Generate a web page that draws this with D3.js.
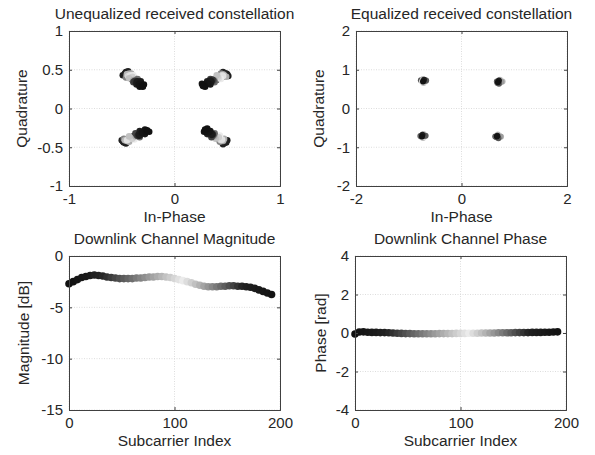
<!DOCTYPE html>
<html><head><meta charset="utf-8">
<script src="https://cdn.jsdelivr.net/npm/d3@7"></script>
<style>
html,body{margin:0;padding:0;background:#fff;}
text{font-family:"Liberation Sans",Arial,Helvetica,sans-serif;fill:#262626;}
</style></head>
<body><svg id="c" width="595" height="455"></svg>
<script>
// ---------------- data ----------------
// Unequalized constellation points: [In-Phase, Quadrature, subcarrier]
const unequalizedTL = [[-0.40,0.37,0],[-0.38,0.39,2],[-0.41,0.40,4],[-0.43,0.40,8],[-0.42,0.42,10],[-0.45,0.42,12],[-0.46,0.43,16],[-0.45,0.45,18],[-0.47,0.44,20],[-0.49,0.43,22],[-0.47,0.45,24],[-0.46,0.47,26],[-0.45,0.46,28],[-0.44,0.48,30],[-0.46,0.44,32],[-0.44,0.44,40],[-0.43,0.43,52],[-0.45,0.41,56],[-0.44,0.43,64],[-0.46,0.40,68],[-0.45,0.44,76],[-0.43,0.45,80],[-0.41,0.45,84],[-0.45,0.44,88],[-0.44,0.42,100],[-0.42,0.43,104],[-0.39,0.43,108],[-0.41,0.40,112],[-0.40,0.41,116],[-0.43,0.39,120],[-0.38,0.37,124],[-0.39,0.36,128],[-0.37,0.35,136],[-0.36,0.36,140],[-0.35,0.38,144],[-0.37,0.36,148],[-0.36,0.35,152],[-0.39,0.34,156],[-0.38,0.35,160],[-0.36,0.31,168],[-0.36,0.34,172],[-0.35,0.35,176],[-0.32,0.35,180],[-0.33,0.32,184],[-0.34,0.31,186],[-0.33,0.28,188],[-0.31,0.30,190],[-0.30,0.29,192],[-0.29,0.31,194],[-0.30,0.28,195]];
const unequalizedTR = [[0.39,0.38,0],[0.40,0.37,2],[0.41,0.40,4],[0.43,0.42,8],[0.44,0.40,10],[0.46,0.43,12],[0.47,0.44,16],[0.48,0.43,18],[0.48,0.45,20],[0.51,0.42,22],[0.49,0.45,24],[0.50,0.44,26],[0.48,0.44,28],[0.46,0.47,30],[0.47,0.45,32],[0.46,0.43,40],[0.45,0.42,52],[0.46,0.41,56],[0.46,0.43,64],[0.44,0.45,68],[0.47,0.42,76],[0.46,0.44,80],[0.49,0.41,84],[0.47,0.43,88],[0.45,0.43,100],[0.46,0.42,104],[0.44,0.38,108],[0.42,0.39,112],[0.41,0.41,116],[0.40,0.43,120],[0.37,0.37,124],[0.38,0.36,128],[0.36,0.36,136],[0.35,0.37,140],[0.38,0.34,144],[0.36,0.35,148],[0.37,0.36,152],[0.34,0.38,156],[0.36,0.37,160],[0.31,0.35,168],[0.35,0.35,172],[0.34,0.36,176],[0.34,0.31,180],[0.31,0.33,184],[0.32,0.32,186],[0.26,0.32,188],[0.28,0.31,190],[0.27,0.30,192],[0.29,0.28,194],[0.27,0.29,195]];
const unequalizedBL = [[-0.38,-0.37,0],[-0.39,-0.36,2],[-0.41,-0.38,4],[-0.43,-0.40,8],[-0.42,-0.39,10],[-0.45,-0.41,12],[-0.47,-0.42,16],[-0.46,-0.43,18],[-0.48,-0.43,20],[-0.46,-0.45,22],[-0.485,-0.43,24],[-0.49,-0.42,26],[-0.48,-0.44,28],[-0.50,-0.41,30],[-0.47,-0.42,32],[-0.46,-0.41,40],[-0.44,-0.41,52],[-0.45,-0.40,56],[-0.45,-0.41,64],[-0.48,-0.39,68],[-0.46,-0.40,76],[-0.45,-0.42,80],[-0.43,-0.43,84],[-0.47,-0.41,88],[-0.44,-0.40,100],[-0.45,-0.41,104],[-0.38,-0.40,108],[-0.41,-0.38,112],[-0.40,-0.39,116],[-0.43,-0.36,120],[-0.37,-0.36,124],[-0.36,-0.35,128],[-0.35,-0.34,136],[-0.34,-0.35,140],[-0.33,-0.37,144],[-0.35,-0.35,148],[-0.36,-0.34,152],[-0.37,-0.32,156],[-0.35,-0.35,160],[-0.33,-0.29,168],[-0.34,-0.34,172],[-0.33,-0.35,176],[-0.28,-0.33,180],[-0.30,-0.32,184],[-0.31,-0.31,186],[-0.28,-0.27,188],[-0.27,-0.30,190],[-0.26,-0.29,192],[-0.24,-0.30,194],[-0.26,-0.28,195]];
const unequalizedBR = [[0.39,-0.36,0],[0.40,-0.37,2],[0.41,-0.38,4],[0.43,-0.39,8],[0.42,-0.40,10],[0.45,-0.41,12],[0.46,-0.42,16],[0.47,-0.41,18],[0.47,-0.43,20],[0.50,-0.41,22],[0.48,-0.43,24],[0.49,-0.44,26],[0.47,-0.44,28],[0.46,-0.46,30],[0.47,-0.42,32],[0.46,-0.41,40],[0.44,-0.40,52],[0.45,-0.41,56],[0.45,-0.40,64],[0.43,-0.43,68],[0.46,-0.42,76],[0.45,-0.41,80],[0.47,-0.39,84],[0.46,-0.41,88],[0.44,-0.41,100],[0.45,-0.40,104],[0.43,-0.35,108],[0.41,-0.38,112],[0.42,-0.37,116],[0.39,-0.39,120],[0.38,-0.35,124],[0.37,-0.36,128],[0.36,-0.34,136],[0.37,-0.33,140],[0.38,-0.32,144],[0.37,-0.34,148],[0.36,-0.35,152],[0.35,-0.37,156],[0.36,-0.34,160],[0.31,-0.33,168],[0.36,-0.33,172],[0.35,-0.34,176],[0.34,-0.29,180],[0.32,-0.31,184],[0.33,-0.30,186],[0.28,-0.30,188],[0.30,-0.29,190],[0.29,-0.28,192],[0.31,-0.26,194],[0.29,-0.27,195]];
// Equalized constellation points: [In-Phase, Quadrature, subcarrier]
const equalizedTL = [[-0.74,0.72,0],[-0.70,0.73,24],[-0.77,0.73,50],[-0.72,0.69,60],[-0.72,0.66,90],[-0.75,0.70,100],[-0.68,0.70,110],[-0.73,0.76,120],[-0.69,0.71,140],[-0.67,0.72,150],[-0.71,0.74,170],[-0.73,0.70,192]];
const equalizedTR = [[0.70,0.70,0],[0.73,0.68,24],[0.67,0.70,50],[0.68,0.66,60],[0.73,0.74,90],[0.74,0.71,100],[0.72,0.65,110],[0.78,0.70,120],[0.76,0.69,130],[0.71,0.64,150],[0.71,0.72,170],[0.69,0.68,192]];
const equalizedBL = [[-0.75,-0.70,0],[-0.73,-0.72,24],[-0.78,-0.71,50],[-0.76,-0.73,60],[-0.73,-0.76,90],[-0.72,-0.69,100],[-0.70,-0.73,110],[-0.72,-0.66,120],[-0.71,-0.71,140],[-0.68,-0.70,150],[-0.74,-0.68,170],[-0.75,-0.72,192]];
const equalizedBR = [[0.67,-0.73,0],[0.69,-0.71,24],[0.64,-0.72,50],[0.66,-0.74,60],[0.69,-0.67,90],[0.72,-0.71,100],[0.71,-0.75,110],[0.75,-0.73,120],[0.74,-0.72,130],[0.70,-0.77,150],[0.68,-0.70,170],[0.67,-0.72,192]];

// Downlink channel estimates per subcarrier
const subcarriers = [0,4,8,12,16,20,24,28,32,36,40,44,48,52,56,60,64,68,72,76,80,84,88,92,96,100,104,108,112,116,120,124,128,132,136,140,144,148,152,156,160,164,168,172,176,180,184,188,192];
const magnitudeDb = [-2.7,-2.5,-2.3,-2.1,-2.0,-1.9,-1.85,-1.9,-1.95,-2.05,-2.1,-2.15,-2.2,-2.2,-2.2,-2.2,-2.15,-2.15,-2.1,-2.05,-2.05,-2.0,-2.0,-2.05,-2.1,-2.2,-2.3,-2.4,-2.5,-2.6,-2.75,-2.85,-2.95,-3.0,-3.0,-3.0,-2.95,-2.95,-2.9,-2.9,-2.95,-2.95,-3.0,-3.05,-3.15,-3.3,-3.45,-3.6,-3.75];
const phaseRad = [-0.05,0.05,0.06,0.04,0.03,0.03,0.02,0.02,0.01,0.0,-0.01,-0.02,-0.03,-0.03,-0.04,-0.04,-0.04,-0.04,-0.04,-0.04,-0.03,-0.03,-0.03,-0.03,-0.02,-0.02,-0.02,-0.01,-0.01,-0.01,0.0,0.0,0.0,0.0,0.01,0.01,0.01,0.01,0.02,0.02,0.02,0.02,0.03,0.03,0.03,0.04,0.04,0.05,0.06];

// tick labels
const ticksUneq = [-1,-0.5,0,0.5,1];
const ticksUneqX = [-1,0,1];
const ticksEq = [-2,-1,0,1,2];
const ticksEqX = [-2,0,2];
const ticksSub = [0,100,200];
const ticksMag = [-15,-10,-5,0];
const ticksPh = [-4,-2,0,2,4];

// ---------------- drawing ----------------
const svg = d3.select("#c");
const shade = d3.scaleLinear().domain([0,30,108,165,195])
  .range(["#111","#222","#ebebeb","#222","#111"]).clamp(true);
const fmt = d => String(d);

function panel(o){
  const g = svg.append("g");
  const x = d3.scaleLinear().domain(o.xd).range([o.l,o.r]);
  const y = d3.scaleLinear().domain(o.yd).range([o.b,o.t]);
  g.selectAll(".gx").data(o.xt).enter().append("line")
    .attr("x1",d=>x(d)).attr("x2",d=>x(d)).attr("y1",o.t).attr("y2",o.b)
    .attr("stroke","#d4d4d4").attr("stroke-width",0.8).attr("stroke-dasharray","1,1.5");
  g.selectAll(".gy").data(o.yt).enter().append("line")
    .attr("y1",d=>y(d)).attr("y2",d=>y(d)).attr("x1",o.l).attr("x2",o.r)
    .attr("stroke","#d4d4d4").attr("stroke-width",0.8).attr("stroke-dasharray","1,1.5");
  const pts = g.append("g");
  const all = [].concat(...o.series).slice().sort((a,b)=>a[2]-b[2]);
  pts.selectAll(null).data(all).enter().append("circle")
    .attr("cx",d=>x(d[0])).attr("cy",d=>y(d[1])).attr("r",o.rad)
    .attr("fill",d=>shade(d[2]));
  const ax = g.append("g").attr("transform",`translate(0,${o.b})`)
    .call(d3.axisBottom(x).tickValues(o.xt).tickSize(-3).tickPadding(7).tickFormat(fmt));
  const ay = g.append("g").attr("transform",`translate(${o.l},0)`)
    .call(d3.axisLeft(y).tickValues(o.yt).tickSize(-3).tickPadding(6).tickFormat(fmt));
  const axt = g.append("g").attr("transform",`translate(0,${o.t})`)
    .call(d3.axisTop(x).tickValues(o.xt).tickSize(-3).tickFormat(""));
  const ayr = g.append("g").attr("transform",`translate(${o.r},0)`)
    .call(d3.axisRight(y).tickValues(o.yt).tickSize(-3).tickFormat(""));
  [ax,ay,axt,ayr].forEach(a=>{
    a.selectAll("path").attr("stroke","#404040").attr("stroke-width",1);
    a.selectAll("line").attr("stroke","#404040");
    a.selectAll("text").style("font-family","'Liberation Sans',Arial,sans-serif")
      .style("font-size","15px").attr("fill","#262626");
  });
  g.append("text").attr("x",(o.l+o.r)/2).attr("y",o.t-12).attr("text-anchor","middle")
    .style("font-size","15.5px").text(o.title);
  g.append("text").attr("x",(o.l+o.r)/2).attr("y",o.b+35.5).attr("text-anchor","middle")
    .style("font-size","15.5px").text(o.xlabel);
  g.append("text").attr("transform",`translate(${o.l-o.yoff},${(o.t+o.b)/2}) rotate(-90)`)
    .attr("text-anchor","middle").style("font-size","15.5px").text(o.ylabel);
}

const lineData = (vals)=>subcarriers.map((s,i)=>[s,vals[i],s]);

panel({l:69,r:280,t:31,b:186,xd:[-1,1],yd:[-1,1],xt:ticksUneqX,yt:ticksUneq,rad:3.3,
  series:[unequalizedTL,unequalizedTR,unequalizedBL,unequalizedBR],
  title:"Unequalized received constellation",xlabel:"In-Phase",ylabel:"Quadrature",yoff:42});
panel({l:356,r:567,t:31,b:186,xd:[-2,2],yd:[-2,2],xt:ticksEqX,yt:ticksEq,rad:3,
  series:[equalizedTL,equalizedTR,equalizedBL,equalizedBR],
  title:"Equalized received constellation",xlabel:"In-Phase",ylabel:"Quadrature",yoff:32});
panel({l:69,r:280,t:256,b:410,xd:[0,200],yd:[-15,0],xt:ticksSub,yt:ticksMag,rad:3.8,
  series:[lineData(magnitudeDb)],
  title:"Downlink Channel Magnitude",xlabel:"Subcarrier Index",ylabel:"Magnitude [dB]",yoff:40});
panel({l:355,r:566,t:256,b:410,xd:[0,200],yd:[-4,4],xt:ticksSub,yt:ticksPh,rad:3.8,
  series:[lineData(phaseRad)],
  title:"Downlink Channel Phase",xlabel:"Subcarrier Index",ylabel:"Phase [rad]",yoff:29});
</script></body></html>
